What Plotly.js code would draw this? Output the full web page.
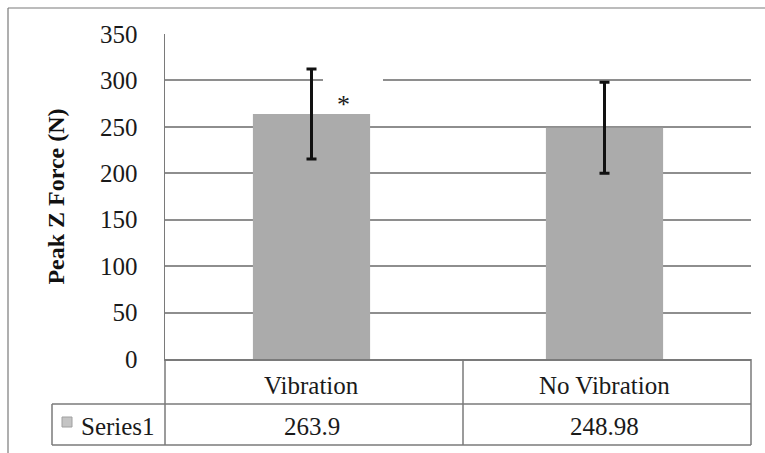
<!DOCTYPE html>
<html><head><meta charset="utf-8">
<script src="https://cdn.plot.ly/plotly-3.0.1.min.js"></script>
<style>html,body{margin:0;padding:0;background:#fff;}#chart{width:765px;height:453px;}</style>
</head><body><div id="chart"></div>
<script>
// ---- data ----
const categories = ['Vibration', 'No Vibration'];
const series1 = [263.9, 248.98];
const series1Err = [48.5, 49];
const seriesName = 'Series1';
const tableValues = ['263.9', '248.98'];
const significance = ['*', ''];
const yTicks = [0, 50, 100, 150, 200, 250, 300, 350];
const yTitle = 'Peak Z Force (N)';

// ---- layout helpers (pixel geometry of the figure) ----
const W = 765, H = 453, L = 165, R = 751, T = 34, B = 359;
const px = v => (v - L) / (R - L);
const py = v => (B - v) / (B - T);
const FONT = 'Liberation Serif, Times New Roman, serif';
const lineCol = '#7a7a7a';

function seg(x0, y0, x1, y1, w) {
  return {type: 'line', xref: 'paper', yref: 'paper', x0: px(x0), y0: py(y0), x1: px(x1), y1: py(y1),
          line: {color: lineCol, width: w || 1.5}, layer: 'above'};
}

const shapes = [
  // outer chart border (top & left visible)
  seg(8, 8, 765, 8, 1.2), seg(8, 8, 8, 453, 1.2),
  // data table grid
  seg(L, B, L, 445), seg(52, 404, R, 404), seg(52, 445, R, 445),
  seg(52, 404, 52, 445), seg(R, B, R, 445), seg(463, B, 463, 445),
  // legend key
  {type: 'rect', xref: 'paper', yref: 'paper', x0: px(62), x1: px(72), y0: py(417), y1: py(427),
   fillcolor: '#c4c4c4', line: {color: '#a0a0a0', width: 1}},
  // white text-box background behind the significance mark (hides the gridline there)
  {type: 'rect', xref: 'paper', yref: 'paper', x0: px(323), x1: px(383), y0: py(74), y1: py(88),
   fillcolor: '#ffffff', line: {width: 0}, layer: 'above'}
];

const annotations = [];
categories.forEach((c, i) => {
  annotations.push({x: c, xref: 'x', y: py(385), yref: 'paper', text: c, showarrow: false,
    font: {family: FONT, size: 25, color: '#1a1a1a'}, yanchor: 'middle'});
  annotations.push({x: c, xref: 'x', y: py(426), yref: 'paper', text: tableValues[i], showarrow: false,
    font: {family: FONT, size: 25, color: '#1a1a1a'}, yanchor: 'middle'});
  if (significance[i]) {
    annotations.push({x: c, xref: 'x', xshift: 32, y: 274, yref: 'y', text: significance[i], showarrow: false,
      font: {family: FONT, size: 26, color: '#1a1a1a'}, yanchor: 'middle'});
  }
});
annotations.push({x: px(79), xref: 'paper', xanchor: 'left', y: py(426), yref: 'paper', text: seriesName,
  showarrow: false, font: {family: FONT, size: 25, color: '#1a1a1a'}, yanchor: 'middle'});

const trace = {
  type: 'bar', x: categories, y: series1, name: seriesName,
  marker: {color: '#ababab', line: {width: 0}},
  error_y: {type: 'data', array: series1Err, visible: true, color: '#111', thickness: 3, width: 5}
};

const layout = {
  width: W, height: H,
  margin: {l: L, r: W - R, t: T, b: H - B, pad: 0},
  paper_bgcolor: '#fff', plot_bgcolor: '#fff',
  showlegend: false, bargap: 0.6,
  xaxis: {showticklabels: false, showgrid: false, zeroline: false, showline: true,
          linecolor: lineCol, linewidth: 1.5, ticks: '', fixedrange: true},
  yaxis: {range: [0, 350], tickvals: yTicks, showgrid: true, gridcolor: '#8e8e8e', gridwidth: 2,
          zeroline: false, showline: true, linecolor: lineCol, linewidth: 1.5, ticks: '',
          ticklabelstandoff: 21,
          tickfont: {family: FONT, size: 25, color: '#1a1a1a'},
          title: {text: yTitle, font: {family: FONT, size: 24, color: '#111', weight: 'bold'}, standoff: 28}},
  shapes: shapes, annotations: annotations
};

Plotly.newPlot('chart', [trace], layout, {displayModeBar: false, staticPlot: true});
</script></body></html>
